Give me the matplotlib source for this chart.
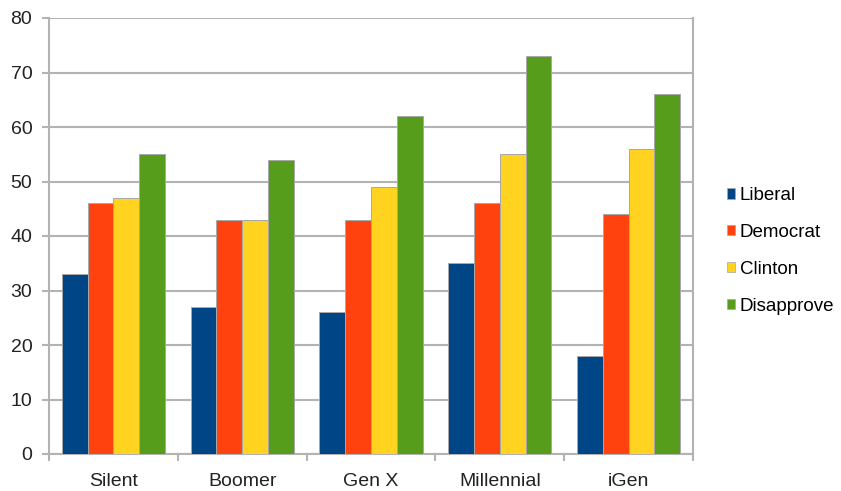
import matplotlib
matplotlib.use("Agg")
import matplotlib.pyplot as plt
import numpy as np
from matplotlib.patches import Patch

categories = ["Silent", "Boomer", "Gen X", "Millennial", "iGen"]
series_names = ["Liberal", "Democrat", "Clinton", "Disapprove"]
liberal = [33, 27, 26, 35, 18]
democrat = [46, 43, 43, 46, 44]
clinton = [47, 43, 49, 55, 56]
disapprove = [55, 54, 62, 73, 66]
colors = ["#004586", "#ff420e", "#ffd320", "#579d1c"]
yticks = [0, 10, 20, 30, 40, 50, 60, 70, 80]

plt.rcParams['font.family'] = ['Liberation Sans', 'DejaVu Sans']
fig = plt.figure(figsize=(8.41, 4.91), dpi=100)
ax = fig.add_axes([49/841, 1-454/491, (693-49)/841, (454-18)/491])

grid_c = "#b3b3b3"
x = np.arange(len(categories))
w = 0.2
data = [liberal, democrat, clinton, disapprove]
for i, (vals, c) in enumerate(zip(data, colors)):
    ax.bar(x + (i - 1.5) * w, vals, width=w, color=c, edgecolor="#a8a8a8",
           linewidth=0.7, zorder=3)

ax.set_xlim(-0.5, len(categories) - 0.5)
ax.set_ylim(0, 80)
ax.set_yticks(yticks)
ax.yaxis.grid(True, color=grid_c, linewidth=1.5, zorder=0)
ax.set_axisbelow(True)
ax.set_xticks(x)
ax.set_xticklabels(categories)
ax.set_xticks(np.arange(len(categories) + 1) - 0.5, minor=True)
ax.tick_params(axis='x', which='major', length=0, pad=13.5, labelsize=14, colors="#222222")
ax.tick_params(axis='x', which='minor', length=5, width=1.5, color=grid_c, direction='out')
ax.tick_params(axis='y', length=5, width=1.5, color=grid_c, pad=7, labelsize=14, labelcolor="#222222")
for s in ['left', 'bottom', 'right']:
    ax.spines[s].set_color(grid_c)
    ax.spines[s].set_linewidth(1.5)
ax.spines['top'].set_visible(False)

handles = [Patch(facecolor=c, edgecolor="#a8a8a8", linewidth=0.5) for c in colors]
fig.legend(handles, series_names, loc='center left', bbox_to_anchor=(719/841, 1-251/491),
           frameon=False, fontsize=13.5, handlelength=0.45, handleheight=0.45,
           handletextpad=0.25, labelspacing=1.06, borderaxespad=0)

fig.savefig("out.png", dpi=100)
